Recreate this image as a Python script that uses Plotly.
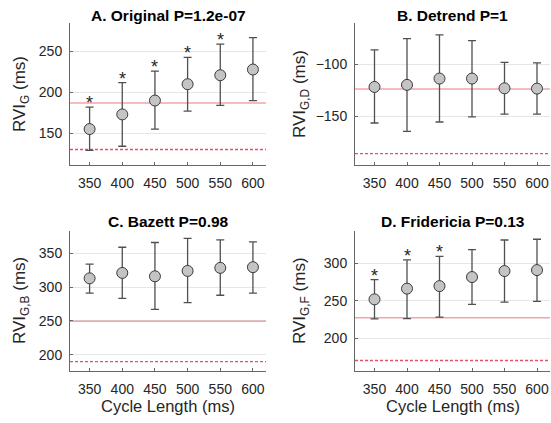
import plotly.graph_objects as go

W, H = 551, 423


def px(x):
    return x / W


def py(y):
    return 1 - y / H


cycle_length = [350, 400, 450, 500, 550, 600]
x_range = [320, 620]

# Panel A: Original
a_mean = [155, 173, 190, 210, 221, 228]
a_upper = [182, 212, 226, 243, 259, 267]
a_lower = [129, 134, 155, 177, 184, 190]
a_star = [True, True, True, True, True, False]
a_ref_solid = 187
a_ref_dash = 130

# Panel B: Detrend
b_mean = [-121.7, -119.7, -113.6, -113.6, -123, -123.3]
b_upper = [-86, -75, -71.5, -77, -98, -98.5]
b_lower = [-156.5, -164.5, -155.5, -150.6, -148, -148]
b_star = [False] * 6
b_ref_solid = -123.6
b_ref_dash = -186

# Panel C: Bazett
c_mean = [313, 321, 316, 324, 328.5, 329.5]
c_upper = [334, 359, 366, 372, 370, 367]
c_lower = [291, 283.5, 267, 277, 288, 291]
c_star = [False] * 6
c_ref_solid = 249.5
c_ref_dash = 190

# Panel D: Fridericia
d_mean = [251.7, 266, 269.4, 281.5, 289.5, 290.8]
d_upper = [278, 304.5, 309, 318, 331, 332]
d_lower = [225.6, 226, 228, 245, 248, 249]
d_star = [True, True, True, False, False, False]
d_ref_solid = 227
d_ref_dash = 170

titles = ["A. Original P=1.2e-07", "B. Detrend P=1",
          "C. Bazett P=0.98", "D. Fridericia P=0.13"]
ylabels = ["RVI<sub>G</sub> (ms)", "RVI<sub>G,D</sub> (ms)",
           "RVI<sub>G,B</sub> (ms)", "RVI<sub>G,F</sub> (ms)"]
xlabel = "Cycle Length (ms)"
xticks = [350, 400, 450, 500, 550, 600]
yticks = [[150, 200, 250], [-150, -100], [200, 250, 300, 350], [200, 250, 300]]
yranges = [[111, 285], [-197, -60], [176, 383], [156, 343]]

panels = [
    (a_mean, a_upper, a_lower, a_star, a_ref_solid, a_ref_dash),
    (b_mean, b_upper, b_lower, b_star, b_ref_solid, b_ref_dash),
    (c_mean, c_upper, c_lower, c_star, c_ref_solid, c_ref_dash),
    (d_mean, d_upper, d_lower, d_star, d_ref_solid, d_ref_dash),
]

# pixel layout of axes boxes (left, right, top, bottom)
boxes = [(70, 266, 23, 165), (355, 550, 23, 165),
         (70, 266, 231, 371), (355, 550, 231, 371)]
title_top = [5, 5, 211, 211]
ylab_x = [21, 301, 21, 301]

FONT = "Liberation Sans, Arial, sans-serif"
TXT = "#262626"

fig = go.Figure()
annotations = []
layout = {}

for i, (mean, up, lo, star, rs, rd) in enumerate(panels):
    n = i + 1
    xa = "x" if n == 1 else f"x{n}"
    ya = "y" if n == 1 else f"y{n}"
    l, r, t, b = boxes[i]
    err_plus = [u - m for u, m in zip(up, mean)]
    err_minus = [m - d for m, d in zip(mean, lo)]
    fig.add_trace(go.Scatter(
        x=x_range, y=[rs, rs], mode="lines", xaxis=xa, yaxis=ya,
        line=dict(color="rgba(240,100,110,0.6)", width=1.5),
        showlegend=False, hoverinfo="skip"))
    fig.add_trace(go.Scatter(
        x=x_range, y=[rd, rd], mode="lines", xaxis=xa, yaxis=ya,
        line=dict(color="#e8505a", width=1.3, dash="3px,2px"),
        showlegend=False, hoverinfo="skip"))
    fig.add_trace(go.Scatter(
        x=cycle_length, y=mean, mode="markers", xaxis=xa, yaxis=ya,
        marker=dict(size=11, color="#c4c4c4", line=dict(color="#3a3a3a", width=1)),
        error_y=dict(type="data", symmetric=False, array=err_plus, arrayminus=err_minus,
                     color="#505050", thickness=1.3, width=4),
        showlegend=False, hoverinfo="skip"))
    for c, u, s in zip(cycle_length, up, star):
        if s:
            annotations.append(dict(
                text="*", xref=xa, yref=ya, x=c, y=u, xanchor="center", yanchor="middle",
                yshift=4, showarrow=False, font=dict(family=FONT, size=18, color=TXT)))
    axkey_x = "xaxis" if n == 1 else f"xaxis{n}"
    axkey_y = "yaxis" if n == 1 else f"yaxis{n}"
    layout[axkey_x] = dict(
        domain=[px(l), px(r)], anchor=ya, range=x_range, tickvals=xticks,
        showgrid=False, zeroline=False, showline=True, linecolor="#666666", linewidth=1,
        ticks="inside", ticklen=3, tickcolor="#666666",
        tickfont=dict(family=FONT, size=14, color=TXT), ticklabelstandoff=5)
    layout[axkey_y] = dict(
        domain=[py(b), py(t)], anchor=xa, range=yranges[i], tickvals=yticks[i],
        showgrid=True, gridcolor="#e6e6e6", gridwidth=1, zeroline=False,
        showline=True, linecolor="#666666", linewidth=1,
        ticks="inside", ticklen=3, tickcolor="#666666",
        tickfont=dict(family=FONT, size=14, color=TXT), ticklabelstandoff=4)
    annotations.append(dict(
        text=f"<b>{titles[i]}</b>", xref="paper", yref="paper",
        x=px((l + r) / 2), y=py(title_top[i]), xanchor="center", yanchor="top",
        showarrow=False, font=dict(family=FONT, size=15.5, color="#000000")))
    annotations.append(dict(
        text=ylabels[i], xref="paper", yref="paper", textangle=-90,
        x=px(ylab_x[i]), y=py((t + b) / 2), xanchor="center", yanchor="middle",
        showarrow=False, font=dict(family=FONT, size=17, color=TXT)))
    if n in (3, 4):
        annotations.append(dict(
            text=xlabel, xref="paper", yref="paper",
            x=px((l + r) / 2), y=py(406), xanchor="center", yanchor="middle",
            showarrow=False, font=dict(family=FONT, size=16.5, color=TXT)))

fig.update_layout(
    width=W, height=H, margin=dict(l=0, r=0, t=0, b=0),
    paper_bgcolor="white", plot_bgcolor="white",
    annotations=annotations, **layout)

fig.write_html(
    "out.html",
    config={"displayModeBar": False, "staticPlot": True},
    post_script="document.body.style.margin='0';document.body.style.overflow='hidden';")
